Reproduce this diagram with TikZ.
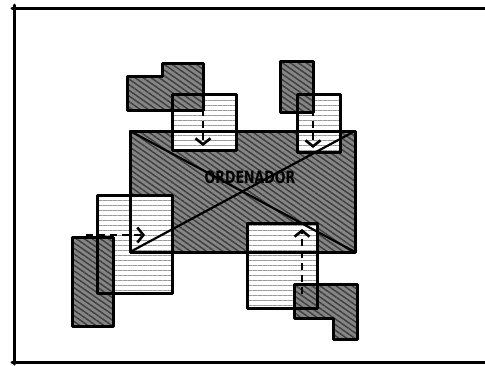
\documentclass[tikz,border=0pt]{standalone}
\usepackage{fontspec}
\setsansfont{DejaVu Sans}
\usetikzlibrary{arrows.meta,patterns.meta}

\tikzset{
  darkblock/.style={fill=black!48,
    postaction={pattern={Lines[angle=-35,distance=4.6pt,line width=1.5pt]}, pattern color=black!75}},
  lightblock/.style={fill=white,
    postaction={pattern={Lines[angle=0,distance=5pt,line width=1pt]}, pattern color=black!40}},
  edge/.style={line width=3pt, line join=round, line cap=round},
  flow/.style={dashed, dash pattern=on 7pt off 5pt, line width=2.6pt,
    -{Straight Barb[length=6pt, width=15pt, line width=2.6pt]}}
}

\begin{document}
\begin{tikzpicture}[x=1pt, y=-1pt]
  \useasboundingbox (0,0) rectangle (485,365);
  \draw[edge] (12,8) -- (486,8);
  \draw[edge] (14,5) -- (14,364);
  \draw[edge] (12,362) -- (486,362);

  \path[darkblock] (130,131) rectangle (355,252);
  \path[lightblock] (172,94) rectangle (236,150);
  \path[lightblock] (297,94) rectangle (340,152);
  \path[lightblock] (97,195) rectangle (172,293);
  \path[lightblock] (247,223) rectangle (317,308);
  \path[darkblock] (127,76) -- (162,76) -- (162,63) -- (203,63) -- (203,110) -- (127,110) -- cycle;
  \path[darkblock] (280,61) rectangle (313,112);
  \path[darkblock] (72,237) rectangle (113,326);
  \path[darkblock] (294,284) -- (357,284) -- (357,339) -- (333,339) -- (333,318) -- (294,318) -- cycle;

  \draw[edge] (130,131) rectangle (355,252);
  \draw[edge, line width=2.2pt] (130,131) -- (355,252);
  \draw[edge, line width=2.2pt] (130,252) -- (355,131);
  \draw[edge] (172,94) rectangle (236,150);
  \draw[edge] (297,94) rectangle (340,152);
  \draw[edge] (97,195) rectangle (172,293);
  \draw[edge] (247,223) rectangle (317,308);
  \draw[edge] (127,76) -- (162,76) -- (162,63) -- (203,63) -- (203,110) -- (127,110) -- cycle;
  \draw[edge] (280,61) rectangle (313,112);
  \draw[edge] (72,237) rectangle (113,326);
  \draw[edge] (294,284) -- (357,284) -- (357,339) -- (333,339) -- (333,318) -- (294,318) -- cycle;

  \node[font=\sffamily\bfseries\fontsize{17}{17}\selectfont, xscale=0.74, transform shape] (ordenador) at (250,177) {ORDENADOR};

  \coordinate (tlstart) at (203,97);
  \coordinate (tlend) at (203,146);
  \coordinate (trstart) at (313,97);
  \coordinate (trend) at (313,148);
  \coordinate (blstart) at (86,235);
  \coordinate (blend) at (145,235);
  \coordinate (brstart) at (302,294);
  \coordinate (brend) at (302,229);
  \draw[flow] (tlstart) -- (tlend);
  \draw[flow] (trstart) -- (trend);
  \draw[flow] (blstart) -- (blend);
  \draw[flow] (brstart) -- (brend);
\end{tikzpicture}
\end{document}
